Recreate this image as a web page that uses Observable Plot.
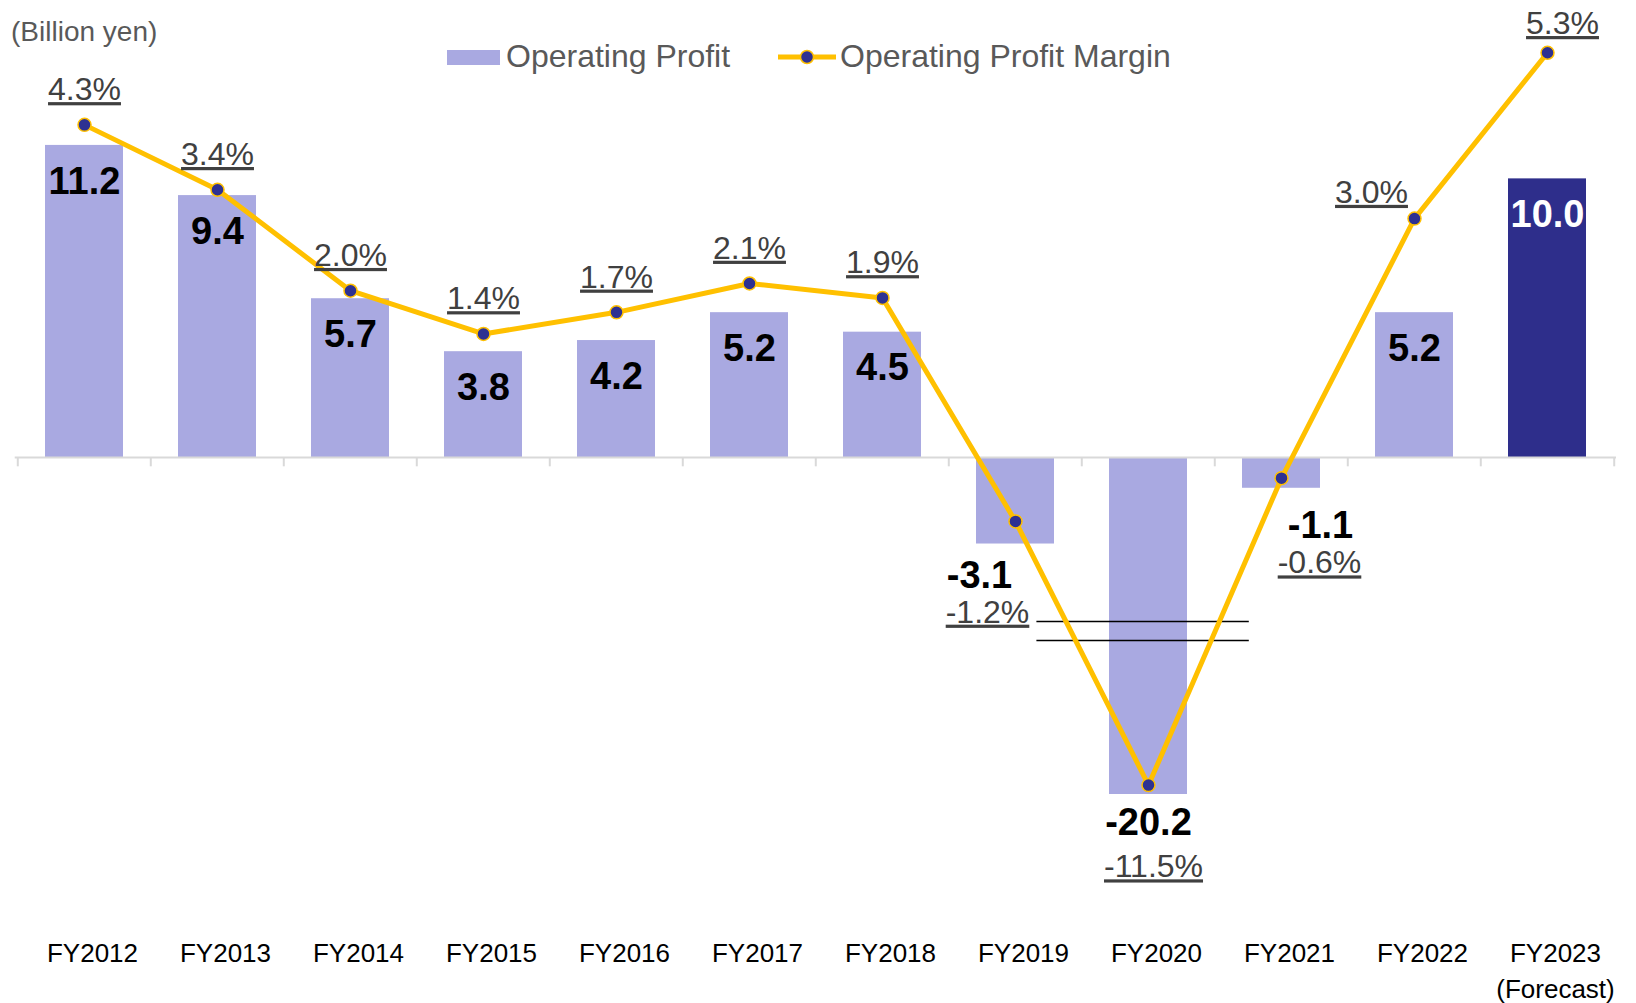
<!DOCTYPE html>
<html>
<head>
<meta charset="utf-8">
<script src="https://cdn.jsdelivr.net/npm/d3@7"></script>
<script src="https://cdn.jsdelivr.net/npm/@observablehq/plot@0.6"></script>
<style>
  html, body { margin: 0; padding: 0; background: #fff; }
  #wrap { position: relative; width: 1636px; height: 1003px; overflow: hidden;
          font-family: "Liberation Sans", Arial, sans-serif; }
  .unit { position: absolute; left: 11px; top: 18px; font-size: 28px; line-height: 28px; color: #595959; white-space: nowrap; }
  .leg { position: absolute; font-size: 32px; line-height: 32px; color: #595959; white-space: nowrap; }
  .sw { position: absolute; left: 447px; top: 50px; width: 53px; height: 15px; background: #a9a9e1; }
  #legline { position: absolute; left: 770px; top: 44px; }
</style>
</head>
<body>
<div id="wrap">
  <div class="unit">(Billion yen)</div>
  <div class="sw"></div>
  <div class="leg" style="left:506px; top:40px;">Operating Profit</div>
  <svg id="legline" width="74" height="26">
    <line x1="8" y1="13" x2="66" y2="13" stroke="#ffc000" stroke-width="5" />
    <circle cx="37" cy="13" r="6.5" fill="#2e3192" stroke="#ffc000" stroke-width="1.5" />
  </svg>
  <div class="leg" style="left:840px; top:40px;">Operating Profit Margin</div>
</div>
<script>
// ---- data ----
const years = ["FY2012","FY2013","FY2014","FY2015","FY2016","FY2017","FY2018","FY2019","FY2020","FY2021","FY2022","FY2023"];
const tickLabels = ["FY2012","FY2013","FY2014","FY2015","FY2016","FY2017","FY2018","FY2019","FY2020","FY2021","FY2022","FY2023\n(Forecast)"];
const profit = [11.2, 9.4, 5.7, 3.8, 4.2, 5.2, 4.5, -3.1, -20.2, -1.1, 5.2, 10.0];   // billion yen
const margin = [4.3, 3.4, 2.0, 1.4, 1.7, 2.1, 1.9, -1.2, -11.5, -0.6, 3.0, 5.3];      // %
const forecastYear = "FY2023";
// broken axis (profit scale): the two marks of the break
const breakMarks = [-5.88, -6.56];

const rows = years.map((y, i) => ({year: y, label: tickLabels[i], profit: profit[i], margin: margin[i]}));

// broken-axis compression (values beyond the break are squeezed)
const brkP = d3.scaleLinear().domain([-20.2, -6.56, 15]).range([-12.086, -6.56, 15]);
const brkM = d3.scaleLinear().domain([-11.5, -1.2, 6]).range([-4.857, -1.2, 6]);

const W = 1636, H = 1003, mL = 14.7, mR = 20;
const step = (W - mL - mR) / years.length;
const font = "Liberation Sans, Arial, sans-serif";
const xOpts = {domain: years, paddingInner: 0.41, paddingOuter: 0.205, axis: null};

const purple = "#a9a9e1", navy = "#2e2e8b", gold = "#ffc000", axisGray = "#d9d9d9";
const yP = d => brkP(d.profit);

// ---- bars layer ----
const labelOpts = {x: "year", y: yP, text: d => d.profit.toFixed(1), fontSize: 38, fontWeight: "bold", fill: "#000"};
const bars = Plot.plot({
  width: W, height: H,
  marginLeft: mL, marginRight: mR, marginTop: 0, marginBottom: 66,
  style: {fontFamily: font, background: "white", overflow: "visible", position: "absolute", left: "0px", top: "0px"},
  x: xOpts,
  y: {domain: [-12.086, 15], range: [794, 39], axis: null},
  marks: [
    Plot.barY(rows.filter(d => d.year !== forecastYear), {x: "year", y: yP, fill: purple}),
    Plot.barY(rows.filter(d => d.year === forecastYear), {x: "year", y: yP, fill: navy}),
    Plot.ruleY([0], {stroke: axisGray, strokeWidth: 2}),
    Plot.ruleX(years, {x: d => d, y1: 0, y2: -0.33, dx: -step / 2, stroke: axisGray, strokeWidth: 2}),
    Plot.ruleX(years.slice(-1), {x: d => d, y1: 0, y2: -0.33, dx: step / 2, stroke: axisGray, strokeWidth: 2}),
    Plot.tickY(breakMarks, {x: () => "FY2020", y: d => d, insetLeft: -72.6, insetRight: -61.8, stroke: "#000", strokeWidth: 1.5}),
    // value labels
    Plot.text(rows.filter(d => d.profit > 0 && d.year !== forecastYear), {...labelOpts, dy: 36}),
    Plot.text(rows.filter(d => d.year === forecastYear), {...labelOpts, dy: 36, fill: "#fff"}),
    Plot.text(rows.filter(d => d.year === "FY2019"), {...labelOpts, dx: -36, dy: 32}),
    Plot.text(rows.filter(d => d.year === "FY2020"), {...labelOpts, dy: 28}),
    Plot.text(rows.filter(d => d.year === "FY2021"), {...labelOpts, dx: 39, dy: 38}),
    // category labels
    Plot.text(rows, {x: "year", text: "label", frameAnchor: "bottom", lineAnchor: "top",
      dx: 8, fontSize: 26, lineHeight: 1.35, fill: "#000"})
  ]
});

// ---- margin layer ----
const yM = d => brkM(d.margin);
const pctOpts = {x: "year", y: yM, text: d => d.margin.toFixed(1) + "%", fontSize: 32, fill: "#404040"};
const line = Plot.plot({
  width: W, height: H,
  marginLeft: mL, marginRight: mR, marginTop: 0, marginBottom: 66,
  style: {fontFamily: font, background: "transparent", overflow: "visible", position: "absolute", left: "0px", top: "0px"},
  x: xOpts,
  y: {domain: [-4.857, 6], range: [784.6, 1.8], axis: null},
  marks: [
    Plot.line(rows, {x: "year", y: yM, stroke: gold, strokeWidth: 5}),
    Plot.dot(rows, {x: "year", y: yM, r: 6.5, fill: "#2e3192", stroke: gold, strokeWidth: 1.5}),
    Plot.text(rows.slice(0, 7), {...pctOpts, dy: -35}),
    Plot.text(rows.filter(d => d.year === "FY2019"), {...pctOpts, dx: -28, dy: 91}),
    Plot.text(rows.filter(d => d.year === "FY2020"), {...pctOpts, dx: 5, dy: 82}),
    Plot.text(rows.filter(d => d.year === "FY2021"), {...pctOpts, dx: 38, dy: 85}),
    Plot.text(rows.filter(d => d.year === "FY2022"), {...pctOpts, dx: -43, dy: -26}),
    Plot.text(rows.filter(d => d.year === "FY2023"), {...pctOpts, dx: 15, dy: -29})
  ]
});
line.querySelectorAll("text").forEach(t => t.style.textDecoration = "underline");

const wrap = document.getElementById("wrap");
wrap.insertBefore(bars, wrap.firstChild);
wrap.insertBefore(line, bars.nextSibling);
</script>
</body>
</html>
